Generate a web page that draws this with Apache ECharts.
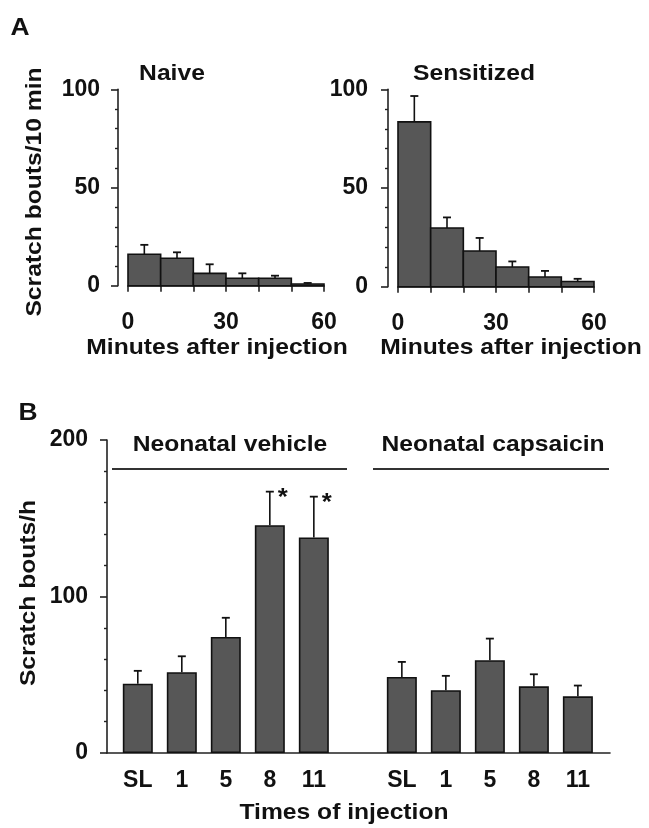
<!DOCTYPE html>
<html>
<head>
<meta charset="utf-8">
<script src="https://cdn.jsdelivr.net/npm/echarts@6/dist/echarts.min.js"></script>
<style>
html,body{margin:0;padding:0;background:#fff;}
#chart{width:649px;height:828px;}
</style>
</head>
<body>
<div id="chart"></div>
<script>
// ---- Data ----
// Panel A: scratch bouts per 10-min bin
const binStarts = [0, 10, 20, 30, 40, 50];
const binEnds   = [10, 20, 30, 40, 50, 60];
const naiveMean = [16.0, 14.0, 6.3, 3.8, 3.8, 0.9];
const naiveSem  = [4.8, 3.0, 4.6, 2.5, 1.3, 0.5];
const sensMean  = [83.5, 29.7, 18.1, 10.0, 4.9, 2.6];
const sensSem   = [13.1, 5.4, 6.6, 2.8, 3.1, 1.4];
const minuteTicks = [0, 30, 60];

// Panel B: scratch bouts per hour by times of injection
const timeLabels  = ['SL', '1', '5', '8', '11'];
const vehicleMean = [44.3, 51.6, 74.2, 145.6, 137.7];
const vehicleSem  = [8.2, 10.2, 12.2, 21.4, 26.1];
const vehicleStar = [false, false, false, true, true];
const capsMean    = [48.6, 40.1, 59.3, 42.6, 36.2];
const capsSem     = [9.6, 9.2, 13.8, 7.7, 6.9];
const capsStar    = [false, false, false, false, false];

// ---- Styling ----
const FONT = 'Liberation Sans, Arial, Helvetica, sans-serif';
const TXT = '#111';
const AX = '#222';
const BAR = '#575757';
const lbl = {fontFamily: FONT, fontWeight: 'bold', fontSize: 23, color: TXT};
const axLine = {show: true, onZero: false, lineStyle: {color: AX, width: 1.6}};

// positions in panel B: vehicle slots then one empty slot then capsaicin
const vehX = timeLabels.map((_, i) => i);
const capX = timeLabels.map((_, i) => i + timeLabels.length + 1);
const allLabelX = vehX.concat(capX);
const slotLabel = {};
vehX.forEach((x, i) => slotLabel[x] = timeLabels[i]);
capX.forEach((x, i) => slotLabel[x] = timeLabels[i]);

function histData(mean) {
  return mean.map((v, i) => [binStarts[i], binEnds[i], v]);
}
function errData(xs, mean, sem, star) {
  return mean.map((v, i) => [xs[i], v, sem[i], star ? (star[i] ? 1 : 0) : 0]);
}
const binCenters = binStarts.map((s, i) => (s + binEnds[i]) / 2);

function renderHist(params, api) {
  const p0 = api.coord([api.value(0), api.value(2)]);
  const p1 = api.coord([api.value(1), 0]);
  return {
    type: 'rect',
    shape: {x: p0[0], y: p0[1], width: p1[0] - p0[0], height: p1[1] - p0[1]},
    style: {fill: BAR, stroke: '#111', lineWidth: 1.6}
  };
}
function renderErr(params, api) {
  const x = api.value(0), m = api.value(1), s = api.value(2), st = api.value(3);
  const p0 = api.coord([x, m]);
  const p1 = api.coord([x, m + s]);
  const children = [
    {type: 'line', shape: {x1: p0[0], y1: p0[1], x2: p1[0], y2: p1[1]}, style: {stroke: '#111', lineWidth: 1.6}},
    {type: 'line', shape: {x1: p1[0] - 4, y1: p1[1], x2: p1[0] + 4, y2: p1[1]}, style: {stroke: '#111', lineWidth: 1.8}}
  ];
  if (st) {
    children.push({type: 'text', x: p1[0] + 13, y: p1[1] + 7, scaleX: 1.12,
      style: {text: '*', font: 'bold 23px ' + FONT, fill: TXT, align: 'center', verticalAlign: 'middle'}});
  }
  return {type: 'group', children};
}

function panelAX(gi) {
  return {
    gridIndex: gi, type: 'value', min: 0, max: 60, interval: 10,
    axisLine: axLine,
    axisTick: {show: true, length: 6, lineStyle: {color: AX, width: 1.6}},
    axisLabel: Object.assign({margin: 25, formatter: v => minuteTicks.indexOf(v) >= 0 ? String(v) : ''}, lbl),
    splitLine: {show: false}
  };
}
function panelAY(gi, margin) {
  return {
    gridIndex: gi, type: 'value', min: 0, max: 100, interval: 50, offset: 10,
    axisLine: axLine,
    axisTick: {show: true, length: 7, lineStyle: {color: AX, width: 1.6}},
    minorTick: {show: true, splitNumber: 5, length: 3, lineStyle: {color: AX, width: 1.4}},
    axisLabel: Object.assign({margin: margin}, lbl),
    splitLine: {show: false}, minorSplitLine: {show: false}
  };
}

const textEl = (t, x, y, rot, size, sx) => ({
  type: 'text', x: x, y: y, rotation: rot || 0, scaleX: sx || 1.12,
  style: {text: t, font: 'bold ' + (size || 22) + 'px ' + FONT, fill: TXT, align: 'center', verticalAlign: 'middle'}
});
const lineEl = (x1, y1, x2, y2) => ({
  type: 'line', shape: {x1, y1, x2, y2}, style: {stroke: '#333', lineWidth: 2}
});

const chart = echarts.init(document.getElementById('chart'), null, {renderer: 'canvas'});
chart.setOption({
  animation: false,
  backgroundColor: '#fff',
  grid: [
    {left: 128, top: 89.3, width: 196, height: 196.4, outerBoundsMode: 'none'},
    {left: 398, top: 89.3, width: 196, height: 197.4, outerBoundsMode: 'none'},
    {left: 107, top: 440, width: 503, height: 313, outerBoundsMode: 'none'}
  ],
  xAxis: [
    panelAX(0),
    panelAX(1),
    {
      gridIndex: 2, type: 'value', min: -0.7, max: 10.73,
      axisLine: axLine,
      axisTick: {show: false},
      axisLabel: Object.assign({margin: 16, customValues: allLabelX, formatter: v => slotLabel[Math.round(v)] || ''}, lbl),
      splitLine: {show: false}
    }
  ],
  yAxis: [
    panelAY(0, 18),
    panelAY(1, 20),
    {
      gridIndex: 2, type: 'value', min: 0, max: 200, interval: 100,
      axisLine: axLine,
      axisTick: {show: true, length: 7, lineStyle: {color: AX, width: 1.6}},
      minorTick: {show: true, splitNumber: 5, length: 3, lineStyle: {color: AX, width: 1.4}},
      axisLabel: Object.assign({margin: 19}, lbl),
      splitLine: {show: false}, minorSplitLine: {show: false}
    }
  ],
  series: [
    {type: 'custom', name: 'Naive', xAxisIndex: 0, yAxisIndex: 0, renderItem: renderHist, data: histData(naiveMean), z: 2},
    {type: 'custom', name: 'Naive SEM', xAxisIndex: 0, yAxisIndex: 0, renderItem: renderErr, data: errData(binCenters, naiveMean, naiveSem), z: 3},
    {type: 'custom', name: 'Sensitized', xAxisIndex: 1, yAxisIndex: 1, renderItem: renderHist, data: histData(sensMean), z: 2},
    {type: 'custom', name: 'Sensitized SEM', xAxisIndex: 1, yAxisIndex: 1, renderItem: renderErr, data: errData(binCenters, sensMean, sensSem), z: 3},
    {type: 'bar', name: 'Neonatal vehicle', xAxisIndex: 2, yAxisIndex: 2, barWidth: 30,
      itemStyle: {color: BAR, borderColor: '#111', borderWidth: 1.6},
      data: vehicleMean.map((v, i) => [vehX[i], v]), z: 2},
    {type: 'bar', name: 'Neonatal capsaicin', xAxisIndex: 2, yAxisIndex: 2, barWidth: 30, barGap: '-100%',
      itemStyle: {color: BAR, borderColor: '#111', borderWidth: 1.6},
      data: capsMean.map((v, i) => [capX[i], v]), z: 2},
    {type: 'custom', name: 'Vehicle SEM', xAxisIndex: 2, yAxisIndex: 2, renderItem: renderErr, data: errData(vehX, vehicleMean, vehicleSem, vehicleStar), z: 3},
    {type: 'custom', name: 'Capsaicin SEM', xAxisIndex: 2, yAxisIndex: 2, renderItem: renderErr, data: errData(capX, capsMean, capsSem, capsStar), z: 3}
  ],
  graphic: [
    textEl('A', 20, 28, 0, 24, 1.1),
    textEl('B', 28, 413, 0, 24, 1.1),
    textEl('Naive', 172, 74),
    textEl('Sensitized', 474, 74),
    textEl('Scratch bouts/10 min', 35, 192, Math.PI / 2),
    textEl('Minutes after injection', 217, 348),
    textEl('Minutes after injection', 511, 348),
    textEl('Scratch bouts/h', 29, 593, Math.PI / 2),
    textEl('Times of injection', 344, 813),
    textEl('Neonatal vehicle', 230, 445),
    textEl('Neonatal capsaicin', 493, 445),
    lineEl(112, 469, 347, 469),
    lineEl(373, 469, 609, 469)
  ]
});
</script>
</body>
</html>
